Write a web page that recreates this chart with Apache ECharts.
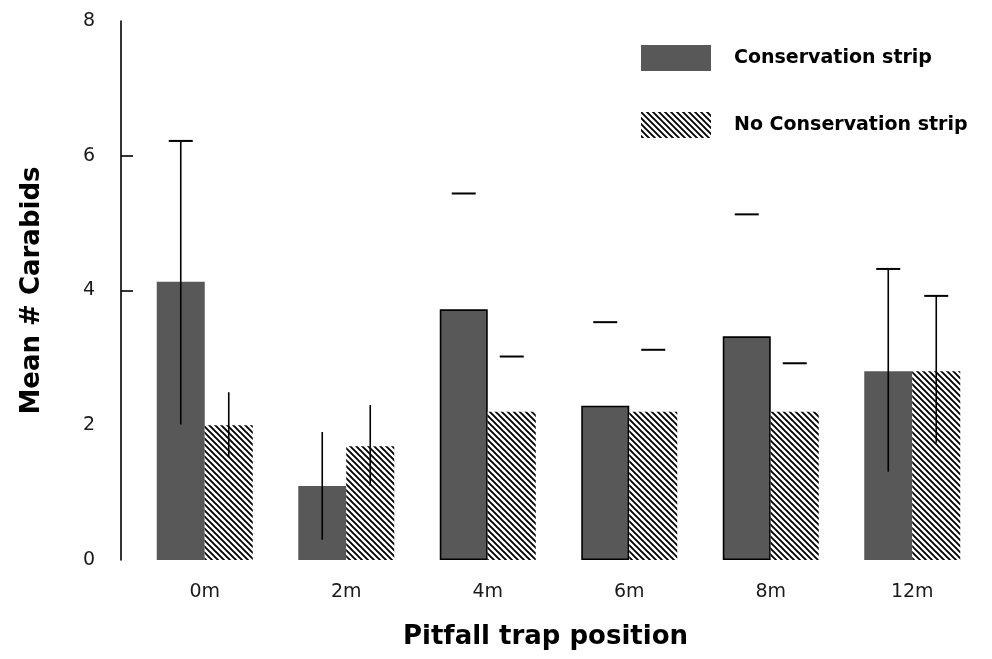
<!DOCTYPE html>
<html>
<head>
<meta charset="utf-8">
<script src="https://cdn.jsdelivr.net/npm/echarts@6/dist/echarts.min.js"></script>
<style>html,body{margin:0;padding:0;background:#fff;}#c{width:992px;height:659px;}</style>
</head>
<body>
<div id="c"></div>
<script>
// ---- data ----
const categories = ['0m', '2m', '4m', '6m', '8m', '12m'];
const consMean = [4.13, 1.10, 3.72, 2.29, 3.32, 2.80];
const noConsMean = [2.00, 1.69, 2.20, 2.20, 2.20, 2.80];
const consErrHigh = [6.22, 1.90, 5.44, 3.53, 5.13, 4.32];
const consErrLow = [2.01, 0.30, null, null, null, 1.31];
const consErrCap = [true, false, true, true, true, true];
const noConsErrHigh = [2.49, 2.30, 3.02, 3.12, 2.92, 3.92];
const noConsErrLow = [1.53, 1.10, null, null, null, 1.74];
const noConsErrCap = [false, false, true, true, true, true];
const yTickValues = [4, 6];
const yLabelValues = [0, 2, 4, 6, 8];

// ---- style ----
const FONT = 'DejaVu Sans';
const BAR_W = 48;
const CAP_W = 24;
const DARK = '#585858';
const outlinedCons = [2, 3, 4];

function hatchPattern() {
  const s = 6;
  const cv = document.createElement('canvas');
  cv.width = s; cv.height = s;
  const ctx = cv.getContext('2d');
  ctx.fillStyle = '#fff';
  ctx.fillRect(0, 0, s, s);
  ctx.strokeStyle = '#000';
  ctx.lineWidth = 1.9;
  ctx.beginPath();
  ctx.moveTo(-1, -1); ctx.lineTo(s + 1, s + 1);
  ctx.moveTo(-2, s - 2); ctx.lineTo(2, s + 2);
  ctx.moveTo(s - 2, -2); ctx.lineTo(s + 2, 2);
  ctx.stroke();
  return cv;
}
const hatch = { image: hatchPattern(), repeat: 'repeat' };

function errData(high, low, cap) {
  return categories.map((c, i) => [i, high[i], low[i] == null ? high[i] : low[i], cap[i] ? 1 : 0, low[i] == null ? 0 : 1]);
}
function errRenderer(side) {
  return function (params, api) {
    const i = api.value(0);
    const pHi = api.coord([i, api.value(1)]);
    const pLo = api.coord([i, api.value(2)]);
    const x = pHi[0] + side * BAR_W / 2;
    const children = [];
    if (api.value(4)) {
      children.push({ type: 'line', shape: { x1: x, y1: pHi[1], x2: x, y2: pLo[1] }, style: { stroke: '#000', lineWidth: 1.6 } });
    }
    if (api.value(3)) {
      children.push({ type: 'line', shape: { x1: x - CAP_W / 2, y1: pHi[1], x2: x + CAP_W / 2, y2: pHi[1] }, style: { stroke: '#000', lineWidth: 2 } });
    }
    return { type: 'group', children };
  };
}

const chart = echarts.init(document.getElementById('c'));
chart.setOption({
  animation: false,
  backgroundColor: '#fff',
  grid: { left: 134, right: 9, top: 21, bottom: 99 },
  legend: {
    data: ['Conservation strip', 'No Conservation strip'],
    orient: 'vertical',
    left: 636, top: 40,
    itemWidth: 70, itemHeight: 26, itemGap: 41,
    icon: 'rect',
    textStyle: { fontFamily: FONT, fontWeight: 'bold', fontSize: 19, color: '#000', padding: [9, 0, 0, 18] }
  },
  xAxis: {
    type: 'category',
    data: categories,
    axisLine: { show: false },
    axisTick: { show: false },
    axisLabel: { fontFamily: FONT, fontSize: 19, color: '#1a1a1a', margin: 23 },
    name: 'Pitfall trap position',
    nameLocation: 'middle',
    nameGap: 64,
    nameTextStyle: { fontFamily: FONT, fontWeight: 'bold', fontSize: 26, color: '#000', padding: [0, 26, 0, 0] }
  },
  yAxis: {
    type: 'value',
    min: 0, max: 8, interval: 2,
    offset: 13,
    splitLine: { show: false },
    axisLine: { show: true, lineStyle: { color: '#000', width: 1.6 } },
    axisTick: { show: true, inside: true, length: 12, lineStyle: { color: '#000', width: 1.6 }, customValues: yTickValues },
    axisLabel: { fontFamily: FONT, fontSize: 19, color: '#1a1a1a', margin: 26, customValues: yLabelValues },
    name: 'Mean # Carabids',
    nameLocation: 'middle',
    nameGap: 76,
    nameTextStyle: { fontFamily: FONT, fontWeight: 'bold', fontSize: 26, color: '#000' }
  },
  series: [
    {
      name: 'Conservation strip',
      type: 'bar',
      barWidth: BAR_W,
      barGap: '0%',
      itemStyle: { color: DARK },
      data: consMean.map((v, i) => outlinedCons.includes(i) ? { value: v, itemStyle: { borderColor: '#000', borderWidth: 1.6 } } : v)
    },
    {
      name: 'No Conservation strip',
      type: 'bar',
      barWidth: BAR_W,
      barGap: '0%',
      itemStyle: { color: hatch },
      data: noConsMean
    },
    {
      name: 'errCons',
      type: 'custom',
      renderItem: errRenderer(-1),
      data: errData(consErrHigh, consErrLow, consErrCap),
      z: 10
    },
    {
      name: 'errNoCons',
      type: 'custom',
      renderItem: errRenderer(1),
      data: errData(noConsErrHigh, noConsErrLow, noConsErrCap),
      z: 10
    }
  ]
});
</script>
</body>
</html>
